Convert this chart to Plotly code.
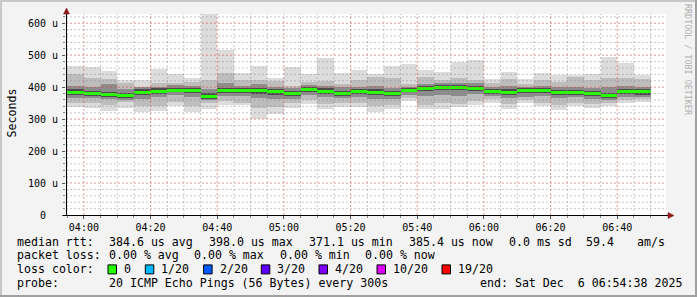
import plotly.graph_objects as go
import pandas as pd

# ---------------- data ----------------
bar_end = pd.date_range("2025-12-06 04:00", "2025-12-06 06:50", freq="5min")  # 35 five-minute steps
bar_center = bar_end - pd.Timedelta(minutes=2.5)

rtt_max = [466, 463, 452, 423, 423, 458, 441, 429, 629, 517,
           445, 466, 428, 463, 441, 492, 445, 454, 441, 466,
           473, 454, 448, 480, 485, 425, 449, 425, 444, 438,
           437, 441, 496, 477, 439]
rtt_p90 = [441, 429, 426, 414, 401, 414, 414, 415, 423, 444,
           423, 423, 420, 404, 417, 420, 411, 423, 431, 428,
           411, 432, 423, 428, 423, 414, 426, 411, 423, 417,
           432, 423, 428, 428, 426]
rtt_p75 = [405, 400, 410, 395, 400, 402, 408, 404, 395, 412,
           405, 410, 402, 398, 408, 405, 400, 402, 404, 398,
           402, 410, 412, 412, 414, 400, 404, 400, 405, 400,
           402, 398, 400, 405, 402]
rtt_p60 = [393, 388, 386, 383, 394, 396, 399, 396, 382, 398,
           398, 396, 394, 388, 402, 396, 388, 395, 393, 388,
           398, 404, 406, 406, 404, 395, 393, 398, 398, 392,
           391, 388, 383, 395, 394]
rtt_median = [384, 379, 376, 373, 384, 388, 391, 389, 371, 389,
              391, 389, 385, 379, 394, 388, 379, 386, 383, 379,
              391, 396, 398, 398, 396, 386, 384, 389, 389, 383,
              383, 379, 374, 386, 385]
rtt_p40 = [376, 371, 368, 365, 375, 380, 384, 381, 364, 381,
           383, 380, 377, 371, 386, 380, 371, 378, 375, 371,
           384, 388, 390, 390, 388, 378, 376, 381, 381, 375,
           376, 371, 366, 378, 377]
rtt_p25 = [365, 365, 362, 360, 362, 368, 375, 368, 360, 372,
           372, 365, 362, 362, 375, 368, 365, 368, 362, 362,
           375, 372, 375, 372, 378, 372, 365, 370, 372, 365,
           368, 362, 360, 368, 370]
rtt_p10 = [350, 352, 345, 355, 340, 342, 355, 340, 350, 358,
           352, 335, 338, 350, 360, 348, 350, 350, 340, 345,
           365, 345, 350, 348, 358, 362, 348, 360, 352, 345,
           350, 348, 352, 360, 362]
rtt_min = [337, 336, 326, 336, 321, 326, 341, 323, 333, 344,
           344, 301, 317, 336, 347, 333, 337, 339, 323, 331,
           357, 333, 333, 339, 345, 350, 333, 352, 341, 329,
           341, 336, 341, 350, 355]

y_tickvals = [0, 100, 200, 300, 400, 500, 600]
y_ticktext = ["0\u00a0\u00a0", "100 u", "200 u", "300 u", "400 u", "500 u", "600 u"]
x_start, x_end = "2025-12-06 03:54:38", "2025-12-06 06:54:38"
x_major = pd.date_range("2025-12-06 04:00", "2025-12-06 06:40", freq="20min")
x_minor = pd.date_range("2025-12-06 03:55", "2025-12-06 06:50", freq="5min")
y_minor = list(range(20, 629, 20))

loss_labels = ["0", "1/20", "2/20", "3/20", "4/20", "10/20", "19/20"]
loss_colors = ["#26ff00", "#00b8ff", "#0059ff", "#5e00ff", "#7e00ff", "#dd00ff", "#ff0000"]

# ---------------- layout geometry ----------------
W, H = 697, 297
L, T = 66, 14
PW, PH = 600, 201
Y_MAX = 629
STEP_MS = 300000


def px_x(p):
    return (p - L) / PW


def px_y(p):
    return (T + PH - p) / PH


fig = go.Figure()

layers = [
    (rtt_min, rtt_max, "#dcdcdc"),
    (rtt_p10, rtt_p90, "#bdbdbd"),
    (rtt_p25, rtt_p75, "#8c8c8c"),
    (rtt_p40, rtt_p60, "#4c4c4c"),
]
for lo, hi, col in layers:
    fig.add_trace(go.Bar(
        x=bar_center, base=lo, y=[h - l for l, h in zip(lo, hi)],
        width=STEP_MS, marker=dict(color=col, line=dict(width=0)),
        showlegend=False, hoverinfo="skip"))

fig.add_trace(go.Bar(
    x=bar_center, base=[m - 4.7 for m in rtt_median], y=[9.4] * len(rtt_median),
    width=STEP_MS, marker=dict(color="#26ff00", line=dict(width=0)),
    showlegend=False, hoverinfo="skip"))

shapes = []
minor_col = "rgba(143,143,143,0.5)"
major_col = "rgba(222,80,80,0.6)"
major_set = set(x_major)
for t in x_minor:
    is_major = t in major_set
    shapes.append(dict(type="line", xref="x", yref="paper", x0=t, x1=t, y0=0, y1=1,
                       line=dict(color=major_col if is_major else minor_col, width=1, dash="2px,2px"),
                       layer="above"))
for v in y_minor:
    is_major = v % 100 == 0
    shapes.append(dict(type="line", xref="paper", yref="y", x0=0, x1=1, y0=v, y1=v,
                       line=dict(color=major_col if is_major else minor_col, width=1, dash="2px,2px"),
                       layer="above"))

# axes with arrows
shapes.append(dict(type="line", xref="paper", yref="paper", x0=px_x(66.5), x1=px_x(66.5),
                   y0=px_y(215.5), y1=px_y(10), line=dict(color="black", width=1), layer="above"))
shapes.append(dict(type="line", xref="paper", yref="paper", x0=px_x(63), x1=px_x(670),
                   y0=px_y(215.5), y1=px_y(215.5), line=dict(color="black", width=1), layer="above"))
arrow_col = "#8c1a1a"
ax, ay = 66.5, 8
shapes.append(dict(type="path", xref="paper", yref="paper",
                   path=f"M {px_x(ax-3)} {px_y(ay+6)} L {px_x(ax+3)} {px_y(ay+6)} L {px_x(ax)} {px_y(ay)} Z",
                   fillcolor=arrow_col, line=dict(color=arrow_col, width=0.5), layer="above"))
bx, by = 674, 215.5
shapes.append(dict(type="path", xref="paper", yref="paper",
                   path=f"M {px_x(bx-6)} {px_y(by-3)} L {px_x(bx-6)} {px_y(by+3)} L {px_x(bx)} {px_y(by)} Z",
                   fillcolor=arrow_col, line=dict(color=arrow_col, width=0.5), layer="above"))

# outer frame
shapes.append(dict(type="rect", xref="paper", yref="paper", x0=px_x(0), x1=px_x(W), y0=px_y(0), y1=px_y(2),
                   fillcolor="#c8c8c8", line=dict(width=0), layer="above"))
shapes.append(dict(type="rect", xref="paper", yref="paper", x0=px_x(0), x1=px_x(2), y0=px_y(0), y1=px_y(H),
                   fillcolor="#c8c8c8", line=dict(width=0), layer="above"))
shapes.append(dict(type="rect", xref="paper", yref="paper", x0=px_x(0), x1=px_x(W), y0=px_y(H - 2), y1=px_y(H),
                   fillcolor="#a0a0a0", line=dict(width=0), layer="above"))
shapes.append(dict(type="rect", xref="paper", yref="paper", x0=px_x(W - 2), x1=px_x(W), y0=px_y(0), y1=px_y(H),
                   fillcolor="#a0a0a0", line=dict(width=0), layer="above"))

FONT = "DejaVu Sans Mono"
LEG = 11.6
annotations = []


def txt(s, x, y, size=LEG, color="black", angle=0, xanchor="left"):
    annotations.append(dict(text=s.replace(" ", "\u00a0"), x=px_x(x), y=px_y(y), xref="paper", yref="paper",
                            xanchor=xanchor, yanchor="middle", showarrow=False, textangle=angle,
                            font=dict(family=FONT, size=size, color=color), borderpad=0))


# legend lines
y1, y2, y3, y4 = 241.7, 255.2, 269.4, 283.4
txt("median rtt:", 16.4, y1)
for s, x in [("384.6 us avg", 107.6), ("398.0 us max", 207.6), ("371.1 us min", 307.6),
             ("385.4 us now", 407.6), ("0.0 ms sd", 507.6), ("59.4", 585.3), ("am/s", 635.6)]:
    txt(s, x, y1)
txt("packet loss:", 16.4, y2)
for s, x in [("0.00 % avg", 107.6), ("0.00 % max", 193.1), ("0.00 % min", 278.6), ("0.00 % now", 364.1)]:
    txt(s, x, y2)
txt("loss color:", 16.4, y3)
box_x = [108, 145.3, 203.6, 261.3, 319, 377, 442]
for lab, col, bxp in zip(loss_labels, loss_colors, box_x):
    shapes.append(dict(type="rect", xref="paper", yref="paper",
                       x0=px_x(bxp), x1=px_x(bxp + 8.5), y0=px_y(y3 + 4.5), y1=px_y(y3 - 4.5),
                       fillcolor=col, line=dict(color="black", width=1), layer="above"))
    txt(lab, bxp + 15, y3)
txt("probe:", 16.4, y4)
txt("20 ICMP Echo Pings (56 Bytes) every 300s", 107.6, y4)
txt("end: Sat Dec  6 06:54:38 2025", 478.7, y4)

# axis title and watermark
txt("Seconds", 11, 113.5, angle=-90, xanchor="center")
txt("RRDTOOL / TOBI OETIKER", 688, 60, size=8.4, color="#b0b0b0", angle=90, xanchor="center")

fig.update_layout(
    width=W, height=H,
    margin=dict(l=L, r=W - L - PW, t=T, b=H - T - PH, pad=0),
    paper_bgcolor="#f3f3f3", plot_bgcolor="#ffffff",
    barmode="overlay", bargap=0, showlegend=False,
    shapes=shapes, annotations=annotations,
    font=dict(family=FONT, size=10, color="black"),
    xaxis=dict(type="date", range=[x_start, x_end], showgrid=False, zeroline=False, showline=False,
               tickvals=list(x_major), tickformat="%H:%M", ticks="outside", ticklen=3, tickcolor="#555555",
               tickfont=dict(family=FONT, size=10, color="black"),
               minor=dict(tickvals=list(x_minor), ticks="outside", ticklen=2, tickcolor="#888888", showgrid=False)),
    yaxis=dict(range=[0, Y_MAX], showgrid=False, zeroline=False, showline=False,
               tickvals=y_tickvals, ticktext=y_ticktext, ticks="outside", ticklen=3, tickcolor="#555555",
               tickfont=dict(family=FONT, size=10, color="black"), ticklabelstandoff=2,
               minor=dict(tickvals=y_minor, ticks="outside", ticklen=2, tickcolor="#888888", showgrid=False)),
)

fig.write_html("out.html")
